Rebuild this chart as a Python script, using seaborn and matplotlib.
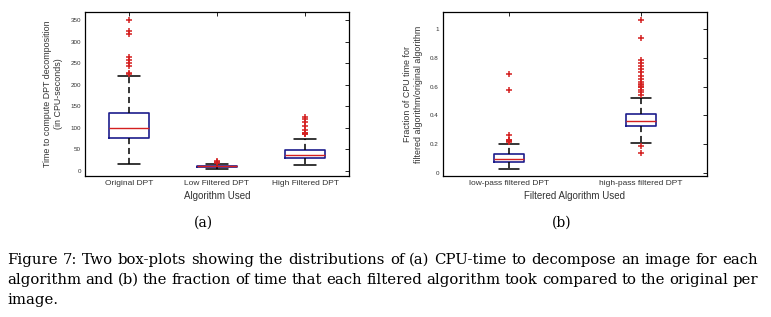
import numpy as np
import pandas as pd
import matplotlib
matplotlib.use("Agg")
import matplotlib.pyplot as plt
import seaborn as sns

# ---------------- data ----------------
# Panel (a): CPU time (seconds)
cats_a = ["Original DPT", "Low Filtered DPT", "High Filtered DPT"]
q1_a = [76.0, 9.0, 29.0]
med_a = [100.0, 10.5, 37.5]
q3_a = [135.5, 12.0, 47.5]
lo_a = [15.5, 5.0, 13.0]
hi_a = [220.0, 16.0, 73.0]
out_orig = [350, 326, 318, 265, 257, 250, 244, 228, 226]
out_low = [24, 21, 18]
out_high = [124, 120, 113, 104, 95, 89, 88, 86.5, 85]
yticks_a = [0, 50, 100, 150, 200, 250, 300, 350]

# Panel (b): fraction of CPU time
cats_b = ["low-pass filtered DPT", "high-pass filtered DPT"]
q1_b = [0.074, 0.325]
med_b = [0.097, 0.362]
q3_b = [0.130, 0.408]
lo_b = [0.026, 0.207]
hi_b = [0.205, 0.520]
out_lowpass = [0.69, 0.575, 0.266, 0.229, 0.226, 0.223, 0.220, 0.217]
out_highpass = [1.062, 0.936, 0.786, 0.768, 0.746, 0.723, 0.700, 0.676,
                0.652, 0.630, 0.620, 0.610, 0.600, 0.595, 0.578, 0.560,
                0.545, 0.188, 0.140]
yticks_b = [0, 0.2, 0.4, 0.6, 0.8, 1.0]

caption_lines = [
    "Figure 7:  Two box-plots showing the distributions of (a) CPU-time to decompose an image for each",
    "algorithm and (b) the fraction of time that each filtered algorithm took compared to the original per",
    "image.",
]


def sample(lo, q1, med, q3, hi, outliers, m=60):
    """Observations whose box-plot statistics equal the read summary."""
    return [lo] + [q1] * m + [med] * m + [q3] * m + [hi] + list(outliers)


def frame(cats, los, q1s, meds, q3s, his, outs):
    rows = []
    for c, lo, q1, md, q3, hi, o in zip(cats, los, q1s, meds, q3s, his, outs):
        for v in sample(lo, q1, md, q3, hi, o):
            rows.append((c, v))
    return pd.DataFrame(rows, columns=["cat", "val"])


df_a = frame(cats_a, lo_a, q1_a, med_a, q3_a, hi_a, [out_orig, out_low, out_high])
df_b = frame(cats_b, lo_b, q1_b, med_b, q3_b, hi_b, [out_lowpass, out_highpass])

# ---------------- styling ----------------
sns.set_theme(style="white")
plt.rcParams["font.family"] = ["Liberation Sans", "DejaVu Sans"]

NAVY = "#1c1c8c"
RED = "#d42020"

fig = plt.figure(figsize=(7.71, 3.17), dpi=100)
W, H = 771, 317


def px_axes(l, r, t, b):
    return fig.add_axes([l / W, 1 - b / H, (r - l) / W, (b - t) / H])


ax_a = px_axes(85, 349, 12, 176)
ax_b = px_axes(443, 707, 12, 176)


def draw(ax, df, order, width, capw):
    sns.boxplot(
        data=df, x="cat", y="val", order=order, ax=ax, fill=False,
        width=width, whis=1.5, linewidth=1.0,
        boxprops=dict(color=NAVY, linewidth=1.2),
        medianprops=dict(color=RED, linewidth=1.0),
        whiskerprops=dict(color="black", linestyle=(0, (4, 2.5)), linewidth=1.1),
        capprops=dict(color="black", linewidth=1.1),
        flierprops=dict(marker="+", markeredgecolor=RED, markerfacecolor=RED,
                        markersize=5, markeredgewidth=1.1),
        capwidths=capw,
    )
    ax.set_xlim(-0.5, len(order) - 0.5)
    for s in ax.spines.values():
        s.set_visible(True)
        s.set_color("black")
        s.set_linewidth(0.9)
    ax.tick_params(direction="in", top=True, right=True, length=3, width=0.6,
                   color="black")
    ax.tick_params(axis="x", labelsize=6, pad=3, labelcolor="#333333")
    ax.tick_params(axis="y", labelsize=4.5, pad=3, labelcolor="#333333")


draw(ax_a, df_a, cats_a, 0.456, 0.24)
ax_a.set_ylim(-12, 369)
ax_a.set_yticks(yticks_a)
ax_a.set_yticklabels([str(t) for t in yticks_a])
ax_a.set_xlabel("Algorithm Used", fontsize=7, color="#333333", labelpad=3)
ax_a.set_ylabel("Time to compute DPT decomposition\n(in CPU-seconds)",
                fontsize=6.4, color="#333333", labelpad=5, linespacing=1.3)

draw(ax_b, df_b, cats_b, 0.228, 0.15)
ax_b.set_ylim(-0.021, 1.12)
ax_b.set_yticks(yticks_b)
ax_b.set_yticklabels(["0", "0.2", "0.4", "0.6", "0.8", "1"])
ax_b.set_xlabel("Filtered Algorithm Used", fontsize=7, color="#333333", labelpad=3)
ax_b.set_ylabel("Fraction of CPU time for\nfiltered algorithm/original algorithm",
                fontsize=6.4, color="#333333", labelpad=5, linespacing=1.3)

# ---------------- sub-captions and caption ----------------
serif = ["DejaVu Serif"]
fig.text(203 / W, 1 - 223 / H, "(a)", ha="center", va="center", fontsize=10,
         family=serif, color="black")
fig.text(562 / W, 1 - 223 / H, "(b)", ha="center", va="center", fontsize=10,
         family=serif, color="black")

renderer = fig.canvas.get_renderer()
x0, x1 = 7, 758

# choose the caption size so that the first line naturally fills the width
probe = fig.text(0, 0, caption_lines[0], fontsize=10, family=serif)
nat = probe.get_window_extent(renderer).width
probe.remove()
cap_size = 10 * (x1 - x0) / nat

ys = [260, 280, 300]
for i, (line, yc) in enumerate(zip(caption_lines, ys)):
    words = line.split()
    justify = i < len(caption_lines) - 1
    texts = [fig.text(0, 1 - yc / H, w, ha="left", va="center", fontsize=cap_size,
                      family=serif, color="black") for w in words]
    widths = [t.get_window_extent(renderer).width for t in texts]
    if justify and len(words) > 1:
        gap = (x1 - x0 - sum(widths)) / (len(words) - 1)
    else:
        gap = 0.3 * cap_size
    x = x0
    for t, w in zip(texts, widths):
        t.set_x(x / W)
        x += w + gap

fig.savefig("out.png", dpi=100)
